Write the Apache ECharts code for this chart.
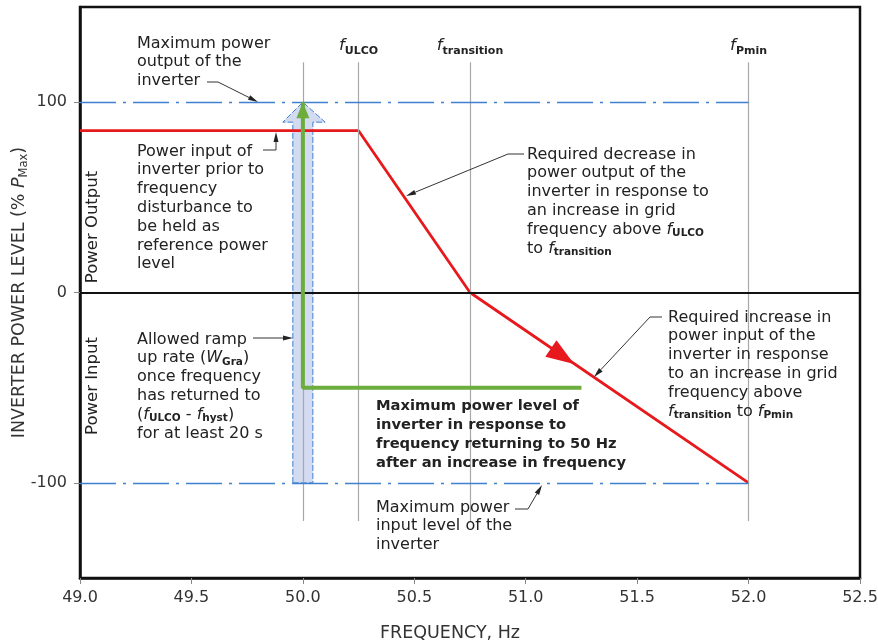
<!DOCTYPE html>
<html><head><meta charset="utf-8">
<script src="https://cdn.jsdelivr.net/npm/echarts@6/dist/echarts.min.js"></script>
<style>html,body{margin:0;padding:0;background:#fff}#c{width:878px;height:643px}</style>
</head><body><div id="c"></div>
<script>
// ---- data ----
const xTicks = [49.0, 49.5, 50.0, 50.5, 51.0, 51.5, 52.0, 52.5];
const yTicks = [-100, 0, 100];
const redX = [49.0, 50.25, 50.75, 52.0];
const redY = [85, 85, 0, -100];
const greenX = [51.25, 50.0, 50.0];
const greenY = [-50, -50, 100];
const rampArrowX = [49.955, 49.955, 49.91, 50.0, 50.1, 50.045, 50.045];
const rampArrowY = [-100, 89.5, 89.5, 100, 89.5, 89.5, -100];
const freqMarkers = [50.0, 50.25, 50.75, 52.0];
const freqLabels = ['', 'ULCO', 'transition', 'Pmin'];
const limitLevels = [100, -100];
const redArrowPoint = [51.165, -33.5];

const FONT = 'DejaVu Sans';
const chart = echarts.init(document.getElementById('c'), null, {renderer: 'canvas'});

const LH = 18.8;
const subRich = {
  n: {fontFamily: FONT, fontSize: 16, color: '#222', lineHeight: LH},
  f: {fontFamily: FONT, fontSize: 16, color: '#222', lineHeight: LH, fontStyle: 'italic'},
  s: {fontFamily: FONT, fontSize: 10.5, color: '#222', lineHeight: 8, verticalAlign: 'bottom', fontWeight: 'bold'}
};

function annot(x, y, text, bold) {
  return {type: 'text', x: x, y: y, z: 50,
    style: {text: text, rich: subRich, font: (bold ? 'bold 14.7px ' : '16px ') + FONT,
      fill: '#222', lineHeight: LH, verticalAlign: 'top', align: 'left'}};
}
function leader(pts) {
  const n = pts.length, a = pts[n - 1], b = pts[n - 2];
  const dx = a[0] - b[0], dy = a[1] - b[1], L = Math.hypot(dx, dy);
  const ux = dx / L, uy = dy / L, len = 10, w = 2.5;
  const bx = a[0] - ux * len, by = a[1] - uy * len;
  return [
    {type: 'polyline', z: 50, shape: {points: pts.slice(0, n - 1).concat([[bx, by]])}, style: {stroke: '#333', lineWidth: 1, fill: null}},
    {type: 'polygon', z: 50, shape: {points: [a, [bx - uy * w, by + ux * w], [bx + uy * w, by - ux * w]]}, style: {fill: '#222'}}
  ];
}

const graphics = [
  annot(137, 34, 'Maximum power\noutput of the\ninverter'),
  annot(137, 142, 'Power input of\ninverter prior to\nfrequency\ndisturbance to\nbe held as\nreference power\nlevel'),
  annot(527, 145, 'Required decrease in\npower output of the\ninverter in response to\nan increase in grid\n{n|frequency above }{f|f}{s|ULCO}\n{n|to }{f|f}{s|transition}'),
  annot(668, 308, 'Required increase in\npower input of the\ninverter in response\nto an increase in grid\nfrequency above\n{f|f}{s|transition}{n| to }{f|f}{s|Pmin}'),
  annot(376, 397, 'Maximum power level of\ninverter in response to\nfrequency returning to 50 Hz\nafter an increase in frequency', true),
  annot(376, 498, 'Maximum power\ninput level of the\ninverter'),
  annot(137, 330, 'Allowed ramp\n{n|up rate (}{f|W}{s|Gra}{n|)}\nonce frequency\nhas returned to\n{n|(}{f|f}{s|ULCO}{n| - }{f|f}{s|hyst}{n|)}\nfor at least 20 s'),
  {type: 'text', x: 93, y: 227, rotation: Math.PI / 2, z: 50,
    style: {text: 'Power Output', font: '16.5px ' + FONT, fill: '#222', align: 'center', verticalAlign: 'middle'}},
  {type: 'text', x: 93, y: 386, rotation: Math.PI / 2, z: 50,
    style: {text: 'Power Input', font: '16.5px ' + FONT, fill: '#222', align: 'center', verticalAlign: 'middle'}}
].concat(
  leader([[207, 82], [218, 82], [258, 102]]),
  leader([[263, 150], [276, 150], [276, 132]]),
  leader([[524, 154], [508, 154], [406, 196]]),
  leader([[662, 317], [650, 317], [594, 377]]),
  leader([[515, 509], [528, 509], [542, 485]]),
  leader([[253, 338], [293, 338]])
);

const option = {
  animation: false,
  grid: {left: 80, right: 18, top: 7, bottom: 65, show: true, borderColor: '#111', borderWidth: 2.5,
    backgroundColor: 'transparent', containLabel: false, outerBoundsMode: 'none'},
  xAxis: {
    type: 'value', min: 49.0, max: 52.5, interval: 0.5,
    name: 'FREQUENCY, Hz', nameLocation: 'middle', nameGap: 46, nameMoveOverlap: false,
    nameTextStyle: {fontFamily: FONT, fontSize: 17.5, color: '#333', padding: [0, 40, 0, 0]},
    axisLine: {show: true, onZero: false, lineStyle: {color: '#111', width: 2.5}},
    axisTick: {show: true, length: 6, lineStyle: {color: '#888'}},
    axisLabel: {fontFamily: FONT, fontSize: 16, color: '#333', margin: 12,
      formatter: v => v.toFixed(1)},
    splitLine: {show: false}
  },
  yAxis: {
    type: 'value', min: -150, max: 150,
    name: '{n|INVERTER POWER LEVEL (% }{p|P}{s|Max}{n|)}', nameLocation: 'middle', nameGap: 50, nameRotate: 90,
    nameMoveOverlap: false,
    nameTextStyle: {rich: {
      n: {fontFamily: FONT, fontSize: 17.5, color: '#333', lineHeight: 22},
      p: {fontFamily: FONT, fontSize: 17.5, color: '#333', lineHeight: 22, fontStyle: 'italic'},
      s: {fontFamily: FONT, fontSize: 11.5, color: '#333', lineHeight: 9, verticalAlign: 'bottom'}
    }},
    axisLine: {show: true, onZero: false, lineStyle: {color: '#111', width: 2.5}},
    axisTick: {show: true, length: 6, customValues: yTicks, lineStyle: {color: '#888'}},
    axisLabel: {fontFamily: FONT, fontSize: 16, color: '#333', margin: 13, customValues: yTicks},
    splitLine: {show: false}
  },
  graphic: graphics,
  series: [
    {
      type: 'custom', z: 1, silent: true,
      data: [[rampArrowX[0], rampArrowY[0]]],
      renderItem: function (params, api) {
        const pts = rampArrowX.map((x, i) => api.coord([x, rampArrowY[i]]));
        return {type: 'polygon', shape: {points: pts},
          style: {fill: '#d3dbf0', stroke: '#3f80d4', lineWidth: 1, lineDash: [6, 2]}};
      }
    },
    {
      type: 'line', z: 2, data: [], silent: true,
      markLine: {
        silent: true, symbol: 'none', animation: false,
        lineStyle: {color: '#a8a8a8', width: 1.2, type: 'solid'},
        label: {show: true, position: 'end', distance: 6,
          formatter: p => p.data.lbl ? '{f|f}{s|' + p.data.lbl + '}' : '',
          rich: {
            f: {fontFamily: FONT, fontSize: 16.5, color: '#222', fontStyle: 'italic', lineHeight: 20},
            s: {fontFamily: FONT, fontSize: 11, color: '#222', fontWeight: 'bold', lineHeight: 9, verticalAlign: 'bottom'}
          }},
        data: freqMarkers.map((x, i) => [{coord: [x, -120], lbl: freqLabels[i]}, {coord: [x, 121]}])
      }
    },
    {
      type: 'line', z: 3, data: [], silent: true,
      markLine: {
        silent: true, symbol: 'none', animation: false, label: {show: false},
        data: limitLevels.map(v => [
          {coord: [49.0, v], lineStyle: {color: '#3f80d0', width: 1.3, type: [36, 7, 3, 7]}},
          {coord: [52.0, v]}
        ]).concat([[
          {coord: [49.0, 0], lineStyle: {color: '#111', width: 2.2, type: 'solid'}},
          {coord: [52.5, 0]}
        ]])
      }
    },
    {
      type: 'line', z: 4, silent: true, symbol: 'none',
      lineStyle: {color: '#e8191d', width: 2.8},
      data: redX.map((x, i) => [x, redY[i]])
    },
    {
      type: 'scatter', z: 5, silent: true,
      symbol: 'triangle', symbolSize: [20, 28], symbolRotate: -124,
      itemStyle: {color: '#e8191d', opacity: 1},
      data: [redArrowPoint]
    },
    {
      type: 'line', z: 6, silent: true, symbol: 'none', showSymbol: true,
      lineStyle: {color: '#6cad3d', width: 4},
      data: greenX.map((x, i) => (i === greenX.length - 1
        ? {value: [x, greenY[i]], symbol: 'triangle', symbolSize: [13, 16], symbolOffset: [0, 8], itemStyle: {color: '#6cad3d', opacity: 1}}
        : [x, greenY[i]]))
    }
  ]
};
chart.setOption(option);
</script>
</body></html>
